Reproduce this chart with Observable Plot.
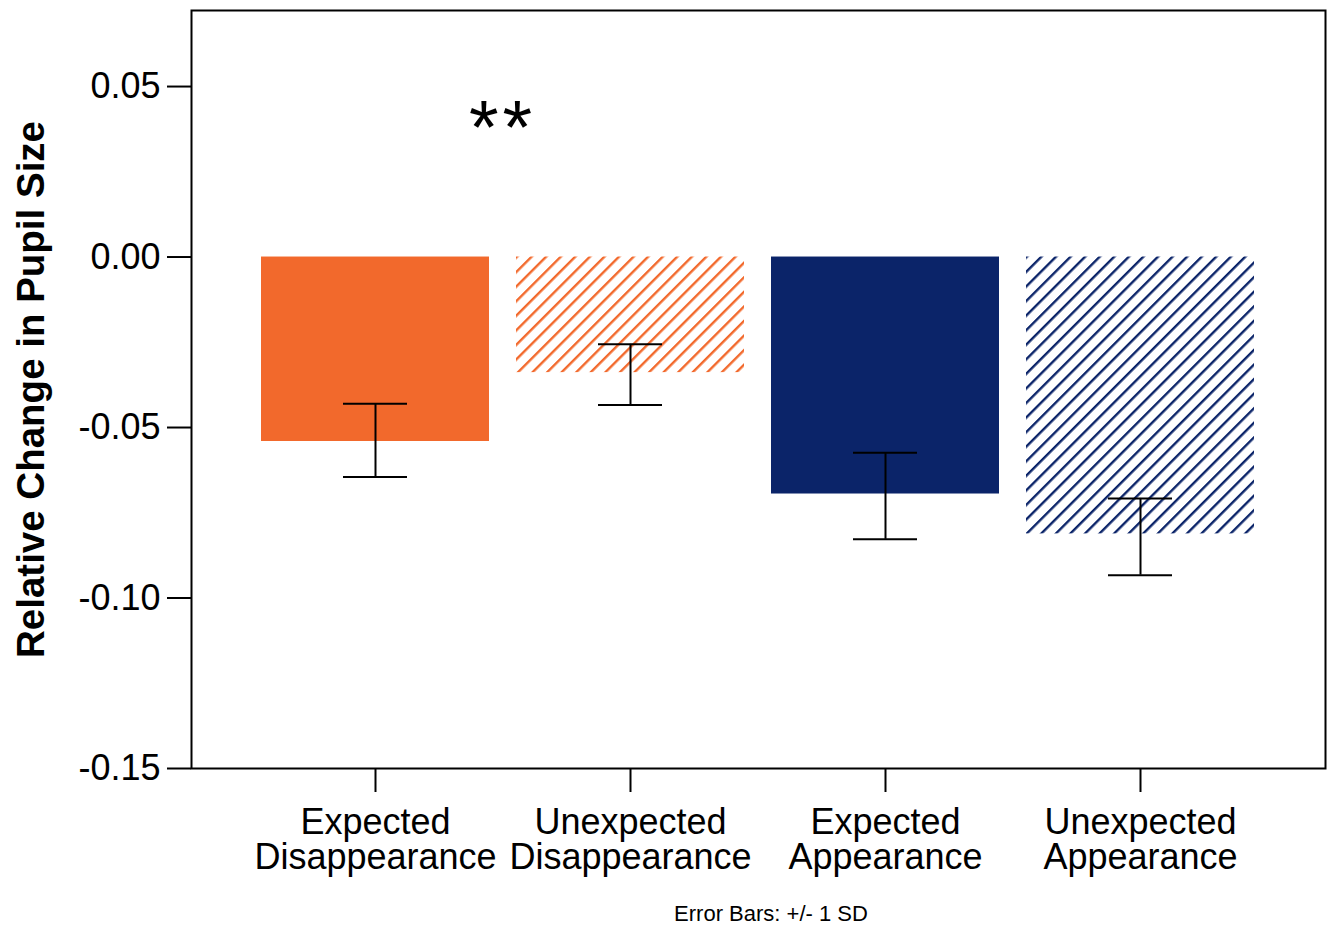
<!DOCTYPE html>
<html><head><meta charset="utf-8">
<script src="https://cdn.jsdelivr.net/npm/d3@7"></script>
<script src="https://cdn.jsdelivr.net/npm/@observablehq/plot@0.6"></script>
<style>
body{margin:0;background:#fff;font-family:"Liberation Sans",Arial,sans-serif;}
#chart svg{display:block;}
#caption{font-size:22px;height:34px;line-height:34px;padding-top:5px;text-align:center;padding-left:215px;color:#000;}
</style></head><body><div id="chart"></div><div id="caption">Error Bars: +/- 1 SD</div>
<script>
// ---- data ----
const categories = ["Expected Disappearance", "Unexpected Disappearance", "Expected Appearance", "Unexpected Appearance"];
const means   = [-0.0541, -0.0339, -0.0695, -0.0812];
const errLow  = [-0.0645, -0.0434, -0.0828, -0.0933];
const errHigh = [-0.0430, -0.0256, -0.0574, -0.0708];
const fills   = ["#F2692C", "url(#hatchOrange)", "#0B2469", "url(#hatchNavy)"];
const yTicks  = [-0.15, -0.10, -0.05, 0.00, 0.05];
const yLabel  = "Relative Change in Pupil Size";
const sigText = "**";
const sigPair = [categories[0], categories[1]];
const sigY    = 0.041;

const rows = categories.map((c, i) => ({cat: c, mean: means[i], lo: errLow[i], hi: errHigh[i], fill: fills[i]}));

const NS = "http://www.w3.org/2000/svg";
function patternDefs() {
  const defs = document.createElementNS(NS, "defs");
  [["hatchOrange", "#F2692C"], ["hatchNavy", "#0B2469"]].forEach(([id, col]) => {
    const p = document.createElementNS(NS, "pattern");
    p.setAttribute("id", id);
    p.setAttribute("patternUnits", "userSpaceOnUse");
    p.setAttribute("width", "10.3");
    p.setAttribute("height", "10");
    p.setAttribute("patternTransform", "rotate(45)");
    const r = document.createElementNS(NS, "rect");
    r.setAttribute("x", "0"); r.setAttribute("y", "0");
    r.setAttribute("width", "2.4"); r.setAttribute("height", "10");
    r.setAttribute("fill", col);
    p.appendChild(r);
    defs.appendChild(p);
  });
  return defs;
}

function sigMark(index, scales) {
  const x = scales.x;
  const bw = x.bandwidth ? x.bandwidth() : 0;
  const cx = (x(sigPair[0]) + x(sigPair[1])) / 2 + bw / 2;
  const t = document.createElementNS(NS, "text");
  t.setAttribute("x", cx);
  t.setAttribute("y", scales.y(sigY));
  t.setAttribute("text-anchor", "middle");
  t.setAttribute("dy", "0.48em");
  t.setAttribute("font-size", "76");
  t.setAttribute("letter-spacing", "4");
  t.setAttribute("fill", "black");
  t.textContent = sigText;
  return t;
}

const chart = Plot.plot({
  width: 1327,
  height: 892,
  marginLeft: 191,
  marginRight: 2,
  marginTop: 10,
  marginBottom: 124,
  style: {fontFamily: "'Liberation Sans', Arial, sans-serif", fontSize: "36px", color: "black", background: "white"},
  x: {domain: categories, paddingInner: 0.105, paddingOuter: 0.27, label: null},
  y: {domain: [-0.15, 0.0723], label: null},
  color: {type: "identity"},
  marks: [
    patternDefs,
    Plot.barY(rows, {x: "cat", y: "mean", fill: "fill"}),
    Plot.ruleX(rows, {x: "cat", y1: "lo", y2: "hi", stroke: "black", strokeWidth: 2}),
    Plot.tickY(rows, {x: "cat", y: "lo", stroke: "black", strokeWidth: 2, insetLeft: 82, insetRight: 82}),
    Plot.tickY(rows, {x: "cat", y: "hi", stroke: "black", strokeWidth: 2, insetLeft: 82, insetRight: 82}),
    Plot.frame({stroke: "black", strokeWidth: 2}),
    Plot.axisY({ticks: yTicks, tickFormat: d => d.toFixed(2), tickSize: 24, tickPadding: 7, fontSize: 36, strokeWidth: 2, label: null}),
    Plot.axisX({tickSize: 24, tickPadding: 16, fontSize: 36, lineHeight: 0.98, strokeWidth: 2, tickFormat: d => d.replace(" ", "\n"), label: null}),
    Plot.text([yLabel], {text: d => d, frameAnchor: "left", textAnchor: "middle", rotate: -90, dx: -160, fontSize: 38.5, fontWeight: "bold", fill: "black"}),
    sigMark
  ]
});
document.getElementById("chart").appendChild(chart);
</script>
</body></html>
